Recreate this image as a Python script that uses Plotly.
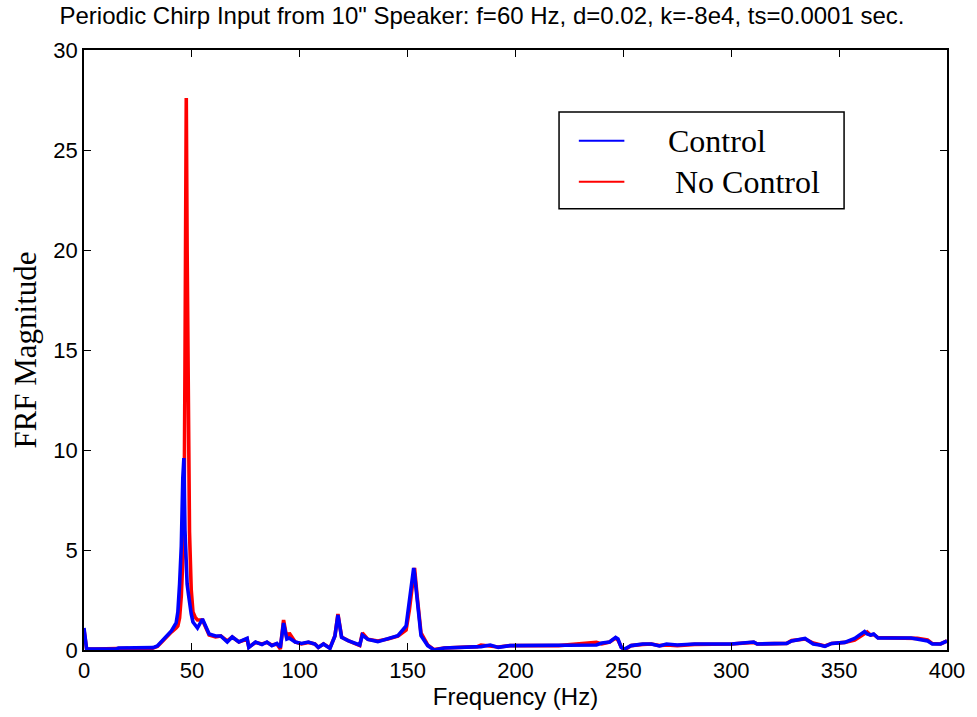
import plotly.graph_objects as go

# Frequency grid (Hz) shared by both measured FRFs
freq = [0, 1.2, 5, 10, 15, 16, 20, 22, 26, 30, 32, 34, 36.5, 38.5, 40.5, 42.7, 43.5,
        44.3, 45.1, 45.8, 46.3, 46.8, 47.4, 47.8, 48.4, 48.9, 49.7, 50.5, 51.5, 52.6,
        54.9, 56.5, 58, 61, 63.4, 66.4, 68.7, 71.8, 75.6, 76.4, 79.5, 82.5, 84.8, 87.1,
        89.4, 91, 92.5, 94, 95.1, 97.9, 100.8, 104, 107, 108.6, 111, 114, 116.3, 117.7,
        119.4, 122.4, 127.8, 129, 131.6, 136.2, 140.8, 145.5, 149.3, 150.8, 152.8, 153.2,
        154.4, 156.2, 159.3, 162.3, 167, 182.3, 184, 188.3, 192, 197.5, 205.3, 220, 237.5,
        240, 243.6, 246.4, 247.5, 249, 250.5, 253.6, 259, 263, 266.7, 270, 275, 283, 300,
        310.4, 312, 325.7, 328, 334.2, 338, 341, 343.4, 346.5, 352.6, 357.2, 361.8, 363,
        364.6, 366, 368, 383.3, 386.3, 391, 393.2, 397, 400]

# FRF magnitude with control on
mag_control = [1.1, 0.05, 0.05, 0.05, 0.05, 0.1, 0.1, 0.1, 0.1, 0.1, 0.12, 0.2, 0.5, 0.75,
               0.95, 1.35, 1.9, 3.3, 5.2, 8.6, 9.6, 6.0, 4.0, 3.3, 2.8, 2.3, 1.8, 1.4, 1.25,
               1.1, 1.55, 1.2, 0.8, 0.7, 0.7, 0.4, 0.65, 0.4, 0.58, 0.13, 0.4, 0.27, 0.4,
               0.22, 0.33, 0.13, 1.35, 0.55, 0.6, 0.4, 0.33, 0.4, 0.3, 0.13, 0.3, 0.08, 0.7,
               1.75, 0.63, 0.47, 0.25, 0.75, 0.53, 0.42, 0.55, 0.72, 1.2, 2.4, 4.1, 3.8,
               2.4, 0.72, 0.22, 0.0, 0.1, 0.17, 0.17, 0.25, 0.13, 0.22, 0.22, 0.22, 0.25,
               0.35, 0.4, 0.63, 0.55, 0.13, 0.05, 0.22, 0.3, 0.3, 0.2, 0.3, 0.25, 0.3, 0.3,
               0.4, 0.3, 0.33, 0.45, 0.58, 0.3, 0.25, 0.18, 0.33, 0.38, 0.58, 0.92, 0.8,
               0.75, 0.8, 0.6, 0.6, 0.53, 0.45, 0.3, 0.3, 0.45]

# FRF magnitude without control
mag_no_control = [1.0, 0.05, 0.05, 0.05, 0.05, 0.08, 0.08, 0.03, 0.0, 0.02, 0.1, 0.18,
                  0.45, 0.7, 0.9, 1.1, 1.2, 1.6, 2.7, 4.5, 5.0, 14.0, 27.6, 20.0, 10.0, 5.9,
                  3.0, 1.9, 1.65, 1.5, 1.5, 1.15, 0.75, 0.65, 0.7, 0.45, 0.65, 0.4, 0.55,
                  0.15, 0.38, 0.3, 0.38, 0.25, 0.3, 0.05, 1.5, 0.6, 0.85, 0.4, 0.3, 0.38,
                  0.3, 0.13, 0.3, 0.1, 0.7, 1.8, 0.65, 0.47, 0.22, 0.85, 0.53, 0.45, 0.55,
                  0.7, 1.0, 2.0, 3.6, 4.1, 2.7, 0.85, 0.25, 0.02, 0.1, 0.17, 0.25, 0.22,
                  0.15, 0.22, 0.22, 0.22, 0.38, 0.3, 0.4, 0.6, 0.5, 0.15, 0.0, 0.22, 0.28,
                  0.3, 0.22, 0.25, 0.22, 0.28, 0.3, 0.38, 0.3, 0.33, 0.47, 0.55, 0.35, 0.25,
                  0.2, 0.33, 0.38, 0.5, 0.85, 0.9, 0.75, 0.78, 0.62, 0.62, 0.58, 0.5, 0.32,
                  0.3, 0.45]

x_ticks = [0, 50, 100, 150, 200, 250, 300, 350, 400]
y_ticks = [0, 5, 10, 15, 20, 25, 30]

series_names = ["Control", "No Control"]
series_colors = ["#0000ff", "#ff0000"]

SANS = "Liberation Sans, Arial, sans-serif"
SERIF = "Liberation Serif, Times New Roman, serif"

W, H = 977, 717
ML, MR, MT, MB = 84, 21, 50, 66
PW, PH = W - ML - MR, H - MT - MB


def px_x(p):
    """Pixel column -> paper x."""
    return (p - ML) / PW


def px_y(p):
    """Pixel row -> paper y."""
    return (H - MB - p) / PH


fig = go.Figure()
# red drawn first so the controlled response sits on top
fig.add_trace(go.Scatter(
    x=freq, y=mag_no_control, mode="lines", name=series_names[1],
    line=dict(color=series_colors[1], width=3.6), showlegend=False))
fig.add_trace(go.Scatter(
    x=freq, y=mag_control, mode="lines", name=series_names[0],
    line=dict(color=series_colors[0], width=3.6), showlegend=False))

axis_common = dict(
    showline=True, linecolor="black", linewidth=1.5, mirror="ticks",
    ticks="inside", ticklen=7, tickcolor="black", tickwidth=1,
    showgrid=False, zeroline=False,
    tickfont=dict(family=SANS, size=22, color="black"),
)

fig.update_xaxes(range=[0, 400], tickvals=x_ticks,
                 title=dict(text="Frequency (Hz)", font=dict(family=SANS, size=24, color="black"),
                            standoff=5),
                 **axis_common)
fig.update_yaxes(range=[0, 30], tickvals=y_ticks,
                 title=dict(text="FRF Magnitude", font=dict(family=SERIF, size=31, color="black"),
                            standoff=8),
                 **axis_common)

# Legend box with line samples and labels
fig.add_shape(type="rect", xref="paper", yref="paper",
              x0=px_x(564), x1=px_x(852), y0=px_y(209), y1=px_y(112),
              line=dict(color="black", width=1.5), fillcolor="white", layer="below")
legend_rows = [141, 182]
legend_text_x = [672, 679]
for name, color, row, tx in zip(series_names, series_colors, legend_rows, legend_text_x):
    fig.add_shape(type="line", xref="paper", yref="paper",
                  x0=px_x(584), x1=px_x(630), y0=px_y(row), y1=px_y(row),
                  line=dict(color=color, width=2))
    fig.add_annotation(x=px_x(tx), y=px_y(row), xref="paper", yref="paper",
                       text=name, showarrow=False, xanchor="left", yanchor="middle",
                       font=dict(family=SERIF, size=32, color="black"))

fig.update_layout(
    width=W, height=H,
    margin=dict(l=ML, r=MR, t=MT, b=MB),
    paper_bgcolor="white", plot_bgcolor="white",
    title=dict(text="Periodic Chirp Input from 10\" Speaker: f=60 Hz, d=0.02, k=-8e4, ts=0.0001 sec.",
               font=dict(family=SANS, size=24, color="black"),
               x=482 / W, xanchor="center", xref="container",
               y=1 - 16 / H, yanchor="middle", yref="container"),
    showlegend=False,
)

fig.write_html("out.html")
